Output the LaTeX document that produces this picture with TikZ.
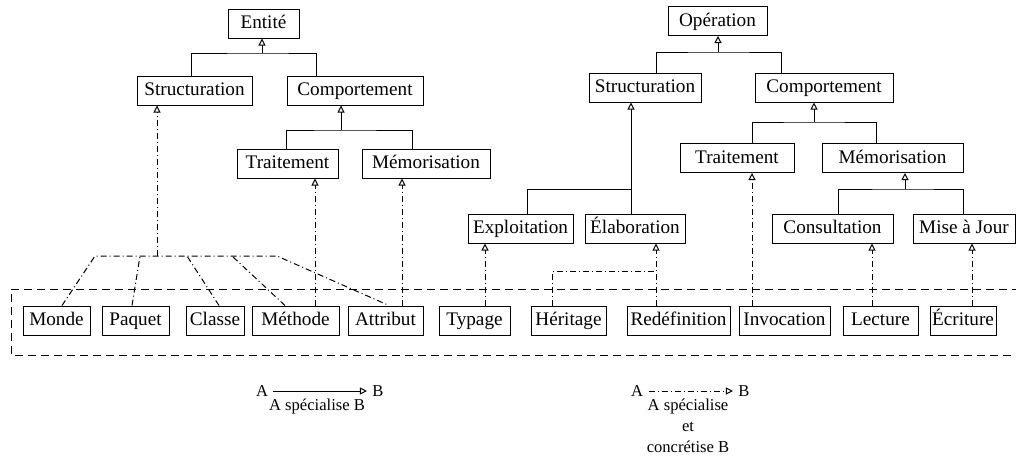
\documentclass[tikz,border=0pt]{standalone}
\usepackage{fontspec}
\setmainfont{Liberation Serif}
\usetikzlibrary{arrows.meta,calc}

\begin{document}
\begin{tikzpicture}[x=0.5pt,y=-0.5pt,line width=0.5pt,
    font=\fontsize{9.6}{10.5}\selectfont,
    box/.style={draw,minimum height=14.5pt,inner sep=0pt,
        text height=7pt,text depth=2pt},
    spec/.style={-{Triangle[open,length=3.5pt,width=3.5pt]}},
    mixte/.style={dash pattern=on 3pt off 1.5pt on 0.5pt off 1.5pt},
    concr/.style={spec,mixte},
    cadre/.style={dash pattern=on 4pt off 2.5pt},
    legende/.style={font=\fontsize{8.3}{10.5}\selectfont},
    lettre/.style={legende,inner sep=2.5pt}]

    \useasboundingbox (0,0) rectangle (1016,455);

    % arbre des entites
    \node[box,minimum width=35.5pt] (ent) at (263.5,23.5) {Entité};
    \node[box,minimum width=57.5pt] (lstr) at (194.5,90.5) {Structuration};
    \node[box,minimum width=68pt] (lcomp) at (355,90.5) {Comportement};
    \node[box,minimum width=50.5pt] (ltrait) at (287.5,163.5) {Traitement};
    \node[box,minimum width=64pt] (lmem) at (426,163.5) {Mémorisation};

    % arbre des operations
    \node[box,minimum width=49.5pt] (op) at (717.5,21) {Opération};
    \node[box,minimum width=56pt] (rstr) at (645,87.5) {Structuration};
    \node[box,minimum width=69pt] (rcomp) at (824,87.5) {Comportement};
    \node[box,minimum width=57pt] (rtrait) at (737,158) {Traitement};
    \node[box,minimum width=70.5pt] (rmem) at (892.5,158) {Mémorisation};
    \node[box,minimum width=52.5pt] (expl) at (520.5,228.5) {Exploitation};
    \node[box,minimum width=50pt] (elab) at (635,228.5) {Élaboration};
    \node[box,minimum width=60.5pt] (consu) at (832.5,228.5) {Consultation};
    \node[box,minimum width=51pt] (maj) at (964,228.5) {Mise à Jour};

    % concepts
    \node[box,minimum width=33.5pt] (monde) at (56.5,320.5) {Monde};
    \node[box,minimum width=33.5pt] (paquet) at (135.5,320.5) {Paquet};
    \node[box,minimum width=29pt] (classe) at (215,320.5) {Classe};
    \node[box,minimum width=43.5pt] (methode) at (295.5,320.5) {Méthode};
    \node[box,minimum width=37.5pt] (attribut) at (385.5,320.5) {Attribut};
    \node[box,minimum width=35.5pt] (typage) at (474.5,320.5) {Typage};
    \node[box,minimum width=37.5pt] (heritage) at (568.5,320.5) {Héritage};
    \node[box,minimum width=51.5pt] (redef) at (678.5,320.5) {Redéfinition};
    \node[box,minimum width=45.5pt] (invoc) at (784.5,320.5) {Invocation};
    \node[box,minimum width=37.5pt] (lecture) at (880.5,320.5) {Lecture};
    \node[box,minimum width=33pt] (ecriture) at (963,320.5) {Écriture};

    \draw[cadre] (1020,289) -| (11,355) -- (1020,355);

    % specialisations
    \coordinate (jE) at (262,53);
    \coordinate (jLC) at (341,130);
    \coordinate (jO) at (718,52);
    \coordinate (jRC) at (814,122);
    \coordinate (jRS) at (631,189);
    \coordinate (jRM) at (905,189);

    \draw[spec] (jE) -- (ent.south -| jE);
    \draw ($(lstr.north)+(-3.5,0)$) |- (jE) -| ($(lcomp.north)+(-39,0)$);
    \draw[spec] (jLC) -- (lcomp.south -| jLC);
    \draw ($(ltrait.north)+(-1.5,0)$) |- (jLC) -| ($(lmem.north)+(-14,0)$);

    \draw[spec] (jO) -- (op.south -| jO);
    \draw ($(rstr.north)+(11,0)$) |- (jO) -| ($(rcomp.north)+(-43,0)$);
    \draw[spec] (jRC) -- (rcomp.south -| jRC);
    \draw ($(rtrait.north)+(15,0)$) |- (jRC) -| ($(rmem.north)+(-16.5,0)$);
    \draw[spec] (jRS) -- (rstr.south -| jRS);
    \draw ($(expl.north)+(6.5,0)$) |- (jRS) -- ($(elab.north)+(-4,0)$);
    \draw[spec] (jRM) -- (rmem.south -| jRM);
    \draw ($(consu.north)+(5.5,0)$) |- (jRM) -| ($(maj.north)+(-1,0)$);

    % concretisations
    \coordinate (fan) at (157,256);
    \draw[concr] (fan) -- (lstr.south -| fan);
    \draw[mixte] ($(monde.north)+(5.5,0)$) -- (95,256) -- (277,256)
        -- ($(attribut.north)+(3.5,0)$);
    \draw[mixte] ($(paquet.north)+(-3.5,0)$) -- (140,256);
    \draw[mixte] ($(classe.north)+(4,0)$) -- (187,256);
    \draw[mixte] ($(methode.north)+(-10.5,0)$) -- (232,256);

    \draw[concr] ($(methode.north)+(19.5,0)$) -- ($(ltrait.south)+(27.5,0)$);
    \draw[concr] ($(attribut.north)+(16.5,0)$) -- ($(lmem.south)+(-24,0)$);
    \draw[concr] ($(typage.north)+(10.5,0)$) -- ($(expl.south)+(-35.5,0)$);
    \draw[concr] ($(redef.north)+(-22.5,0)$) -- ($(elab.south)+(21,0)$);
    \draw[mixte] ($(heritage.north)+(-16.5,0)$) |- ($(redef.north)+(-22.5,-34)$);
    \draw[concr] ($(invoc.north)+(-32.5,0)$) -- ($(rtrait.south)+(15,0)$);
    \draw[concr] ($(lecture.north)+(-8.5,0)$) -- ($(consu.south)+(39.5,0)$);
    \draw[concr] ($(ecriture.north)+(9,0)$) -- ($(maj.south)+(8,0)$);

    % legende
    \node[lettre] (la1) at (262,391) {A};
    \node[lettre] (lb1) at (378,391) {B};
    \draw[spec] (la1) -- (lb1);
    \node[legende] (lt1) at (317,406) {A spécialise B};

    \node[lettre] (la2) at (637,391) {A};
    \node[lettre] (lb2) at (744,391) {B};
    \draw[concr] (la2) -- (lb2);
    \node[legende,align=center] (lt2) at (688,426) {A spécialise\\et\\concrétise B};
\end{tikzpicture}
\end{document}
